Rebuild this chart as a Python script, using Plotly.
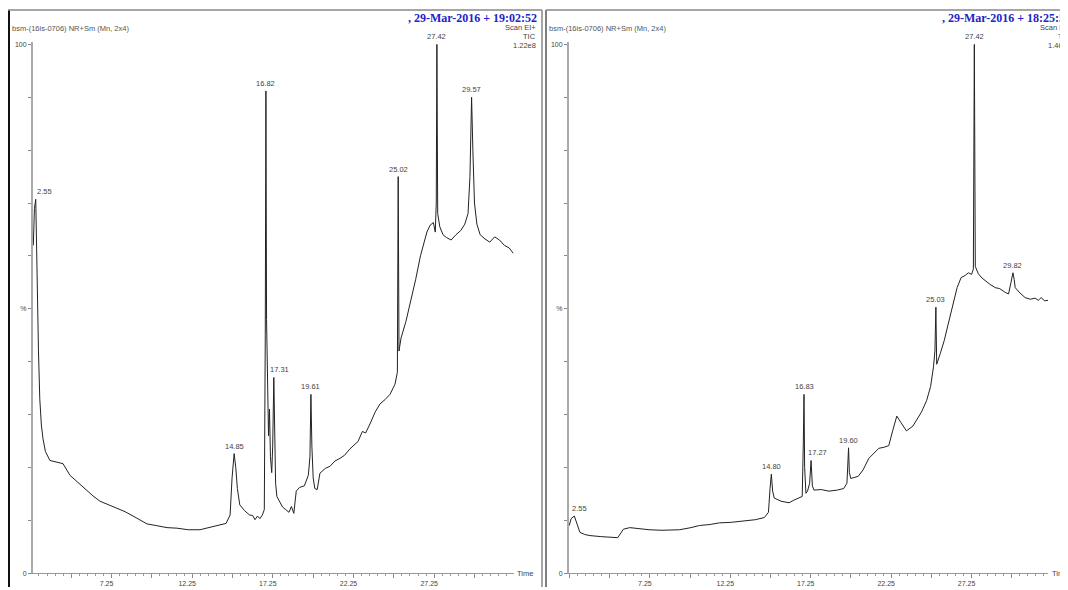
import plotly.graph_objects as go

# page body has an 8px margin: the figure starts at screen (8, 8)
OFF = 8
W, H = 1068 - OFF, 590 - OFF

# ---------------- data ----------------
left_time = [2.40, 2.47, 2.55, 2.60, 2.66, 2.72, 2.80, 2.90, 3.00, 3.15, 3.43, 3.8, 4.24, 4.67, 5.2, 5.73,
             6.1, 6.53, 7.0, 7.59, 8.1, 8.58, 9.0, 9.45, 10.0, 10.69, 11.3, 12.0, 12.73, 13.3, 13.7, 13.97,
             14.35, 14.60, 14.72, 14.85, 14.95, 15.05, 15.2, 15.5, 15.8, 16.0, 16.14, 16.3, 16.45, 16.60,
             16.72, 16.78, 16.82, 16.86, 16.92, 16.98, 17.04, 17.10, 17.18, 17.24, 17.31, 17.36, 17.42,
             17.5, 17.65, 17.85, 18.05, 18.25, 18.4, 18.55, 18.70, 18.9, 19.2, 19.45, 19.55, 19.61, 19.67,
             19.75, 19.85, 20.0, 20.17, 20.5, 20.79, 21.1, 21.41, 21.7, 22.03, 22.3, 22.53, 22.8, 23.0,
             23.27, 23.6, 23.89, 24.2, 24.51, 24.82, 24.97, 25.02, 25.07, 25.2, 25.5, 25.8, 26.1, 26.4,
             26.6, 26.8, 27.0, 27.2, 27.32, 27.38, 27.42, 27.47, 27.6, 27.8, 28.0, 28.3, 28.6, 28.9,
             29.15, 29.35, 29.47, 29.57, 29.65, 29.75, 29.9, 30.1, 30.4, 30.7, 31.0, 31.3, 31.6, 31.9, 32.15]
left_tic = [62, 69, 70.7, 60, 52, 42, 33, 28, 25.4, 23, 21.3, 21, 20.7, 18.5, 17, 15.5,
            14.6, 13.6, 13, 12.3, 11.6, 10.8, 10.1, 9.3, 9.0, 8.6, 8.5, 8.2, 8.2, 8.6, 8.8, 9.0,
            9.4, 11, 18, 22.6, 20, 16, 12.9, 11.8, 11.0, 10.9, 10.1, 10.8, 10.3, 11,
            12, 45, 91.2, 48, 33, 26, 31, 22, 19, 24, 37, 22, 17,
            14.5, 13.5, 12.5, 12, 11.5, 12.6, 11.3, 15.5, 16.2, 16.5, 18.5, 22, 33.8, 24,
            18, 16, 15.8, 18.9, 19.8, 20.2, 21.2, 21.7, 22.3, 23.5, 24.2, 24.9, 26.8, 26.5,
            28.2, 30.5, 32, 32.8, 33.8, 35.7, 38, 75, 42, 44.5, 47.6, 51.4, 55.5, 60,
            62.5, 64.5, 65.8, 66.3, 64.5, 70, 100, 68, 65.5, 64, 63.5, 63.0, 64.0, 64.8,
            66, 68, 75, 90, 80, 70, 66, 64, 63.2, 62.6, 63.6, 63, 62, 61.5, 60.5]

right_time = [2.24, 2.35, 2.55, 2.65, 2.9, 3.2, 3.52, 4.2, 4.8, 5.25, 5.45, 5.6, 6.0, 6.6, 7.2, 8.0,
              9.1, 9.8, 10.33, 11.0, 11.57, 12.3, 13.1, 13.8, 14.36, 14.62, 14.72, 14.80, 14.88, 14.98,
              15.4, 15.9, 16.2, 16.52, 16.72, 16.79, 16.83, 16.87, 16.95, 17.05, 17.18, 17.27, 17.35,
              17.45, 17.9, 18.38, 18.9, 19.3, 19.5, 19.56, 19.60, 19.65, 19.74, 20.2, 20.5, 20.86, 21.2,
              21.48, 21.8, 22.1, 22.35, 22.6, 22.85, 23.2, 23.6, 23.9, 24.14, 24.45, 24.7, 24.88, 24.97,
              25.03, 25.08, 25.3, 25.55, 25.81, 26.1, 26.35, 26.6, 26.85, 27.05, 27.25, 27.36, 27.42,
              27.48, 27.67, 27.9, 28.1, 28.4, 28.72, 29.0, 29.34, 29.55, 29.7, 29.82, 29.9, 29.96, 30.25,
              30.58, 30.9, 31.2, 31.4, 31.57, 31.8, 32.0]
right_tic = [9.0, 10.3, 10.8, 10, 7.7, 7.3, 7.1, 6.9, 6.8, 6.7, 7.6, 8.3, 8.6, 8.4, 8.2, 8.1,
             8.2, 8.6, 9.0, 9.2, 9.5, 9.6, 9.9, 10.1, 10.5, 11.5, 16, 18.7, 15.5, 14.2,
             13.6, 13.3, 13.8, 14.2, 14.5, 25, 33.8, 20, 15.1, 15.5, 17, 21.3, 16.5,
             15.7, 15.8, 15.5, 15.7, 16, 17, 21, 23.7, 19, 17.9, 18.3, 19.5, 21.7, 22.7,
             23.6, 23.8, 24.1, 27, 29.7, 28.5, 26.9, 27.8, 29.2, 30.5, 32.6, 35.3, 39, 42,
             50.3, 39.5, 41.5, 44, 47.3, 51, 54, 55.9, 56.3, 56.8, 56.5, 57.5, 100,
             58, 56.6, 55.8, 55.3, 54.6, 54, 53.8, 53.1, 52.8, 55, 56.8, 55.5, 54, 53,
             52.1, 51.8, 52, 51.6, 52.1, 51.5, 51.6]

left_peaks = [2.55, 14.85, 16.82, 17.31, 19.61, 25.02, 27.42, 29.57]
right_peaks = [2.55, 14.80, 16.83, 17.27, 19.60, 25.03, 27.42, 29.82]

x_tick_labels = ["7.25", "12.25", "17.25", "22.25", "27.25"]

sample_name = "bsm-(16is-0706) NR+Sm (Mn, 2x4)"
left_stamp = ", 29-Mar-2016 + 19:02:52"
right_stamp = ", 29-Mar-2016 + 18:25:52"
left_scale = "1.22e8"
right_scale = "1.46e8"

# ---------------- figure ----------------
def px(x):  # screen x -> paper
    return (x - OFF) / W

def py(y):  # screen y -> paper
    return (H - (y - OFF)) / H

fig = go.Figure()
fig.add_trace(go.Scatter(x=left_time, y=left_tic, mode="lines", xaxis="x", yaxis="y",
                         line=dict(color="#222", width=1), hoverinfo="skip", showlegend=False))
fig.add_trace(go.Scatter(x=right_time, y=right_tic, mode="lines", xaxis="x2", yaxis="y2",
                         line=dict(color="#222", width=1), hoverinfo="skip", showlegend=False))

major_vals = [2.25 + 2.5 * k for k in range(13)]
major_text = [("%.2f" % v) if ("%.2f" % v) in x_tick_labels else "" for v in major_vals]

tickfont = dict(family="Liberation Sans", size=7, color="#444")

def xaxis_cfg(domain, rng, anchor):
    return dict(domain=domain, range=rng, anchor=anchor, showgrid=False, zeroline=False,
                showline=True, linecolor="#999", linewidth=1,
                tickmode="array", tickvals=major_vals, ticktext=major_text,
                ticks="outside", ticklen=4, tickcolor="#888", tickwidth=1,
                tickfont=tickfont, ticklabelshift=-5, ticklabelstandoff=0,
                minor=dict(tickmode="linear", tick0=0.25, dtick=0.5, ticks="outside",
                           ticklen=2, tickcolor="#999"))

yvals = list(range(0, 101, 10))
ytext = ["0", "", "", "", "", "%", "", "", "", "", "100"]

def yaxis_cfg(domain, anchor):
    return dict(domain=domain, range=[0, 100.5], anchor=anchor, showgrid=False, zeroline=False,
                showline=True, linecolor="#aaa", linewidth=2,
                tickmode="array", tickvals=yvals, ticktext=ytext,
                ticks="outside", ticklen=3, tickcolor="#888",
                tickfont=tickfont)

ydom = [py(576), py(41)]
fig.update_layout(
    width=W, height=H, margin=dict(l=0, r=0, t=0, b=0),
    paper_bgcolor="white", plot_bgcolor="white",
    xaxis=xaxis_cfg([px(33), px(514)], [2.38, 32.2], "y"),
    yaxis=yaxis_cfg(ydom, "x"),
    xaxis2=xaxis_cfg([px(569), px(1048)], [2.22, 32.0], "y2"),
    yaxis2=yaxis_cfg(ydom, "x2"),
)

small = dict(family="Liberation Sans", size=7.5, color="#444")
stamp_font = dict(family="Liberation Serif", size=12, color="#2323c8", weight="bold")

ann = []

def lookup(ts, vs, t):
    i = min(range(len(ts)), key=lambda k: abs(ts[k] - t))
    return vs[i]

def panel(x_left, x_right, stamp, scale, stamp_anchor_x, stamp_anchor, peaks, ts, vs, xa, ya, time_x, first_shift):
    ann.append(dict(x=px(x_left), y=py(28), xref="paper", yref="paper", text=sample_name,
                    showarrow=False, xanchor="left", yanchor="middle",
                    font=dict(family="Liberation Sans", size=7.5, color="#555")))
    ann.append(dict(x=px(stamp_anchor_x), y=py(17), xref="paper", yref="paper", text=stamp,
                    showarrow=False, xanchor=stamp_anchor, yanchor="middle", font=stamp_font))
    for txt, yy in (("Scan EI+", 27), ("TIC", 36), (scale, 45)):
        ann.append(dict(x=px(x_right), y=py(yy), xref="paper", yref="paper", text=txt,
                        showarrow=False, xanchor="right", yanchor="middle", font=small))
    ann.append(dict(x=px(time_x), y=py(576), xref="paper", yref="paper", text="Time",
                    showarrow=False, xanchor="left", yanchor="middle", font=small))
    for i, t in enumerate(peaks):
        v = lookup(ts, vs, t)
        a = dict(x=t, y=v, xref=xa, yref=ya, text="%.2f" % t, showarrow=False,
                 yanchor="bottom", yshift=1, font=small)
        if i == 0:
            a.update(xanchor="left", xshift=first_shift)
        elif i == 3:
            a.update(xshift=6)
        ann.append(a)

panel(10, 538, left_stamp, left_scale, 539, "right", left_peaks, left_time, left_tic, "x", "y", 515, -1)
panel(547, 1073, right_stamp, right_scale, 940, "left", right_peaks, right_time, right_tic, "x2", "y2", 1050, -4)
fig.update_layout(annotations=ann)

shapes = [
    dict(type="line", xref="paper", yref="paper", x0=px(9), x1=px(9), y0=0, y1=py(9), line=dict(color="#111", width=2)),
    dict(type="line", xref="paper", yref="paper", x0=px(8), x1=px(542), y0=py(9), y1=py(9), line=dict(color="#888", width=1.5)),
    dict(type="line", xref="paper", yref="paper", x0=px(542), x1=px(542), y0=0, y1=py(9), line=dict(color="#888", width=1.5)),
    dict(type="line", xref="paper", yref="paper", x0=px(546), x1=px(546), y0=0, y1=py(9), line=dict(color="#555", width=1.5)),
    dict(type="line", xref="paper", yref="paper", x0=px(546), x1=1, y0=py(9), y1=py(9), line=dict(color="#888", width=1.5)),
]
fig.update_layout(shapes=shapes)

fig.write_html("out.html")
